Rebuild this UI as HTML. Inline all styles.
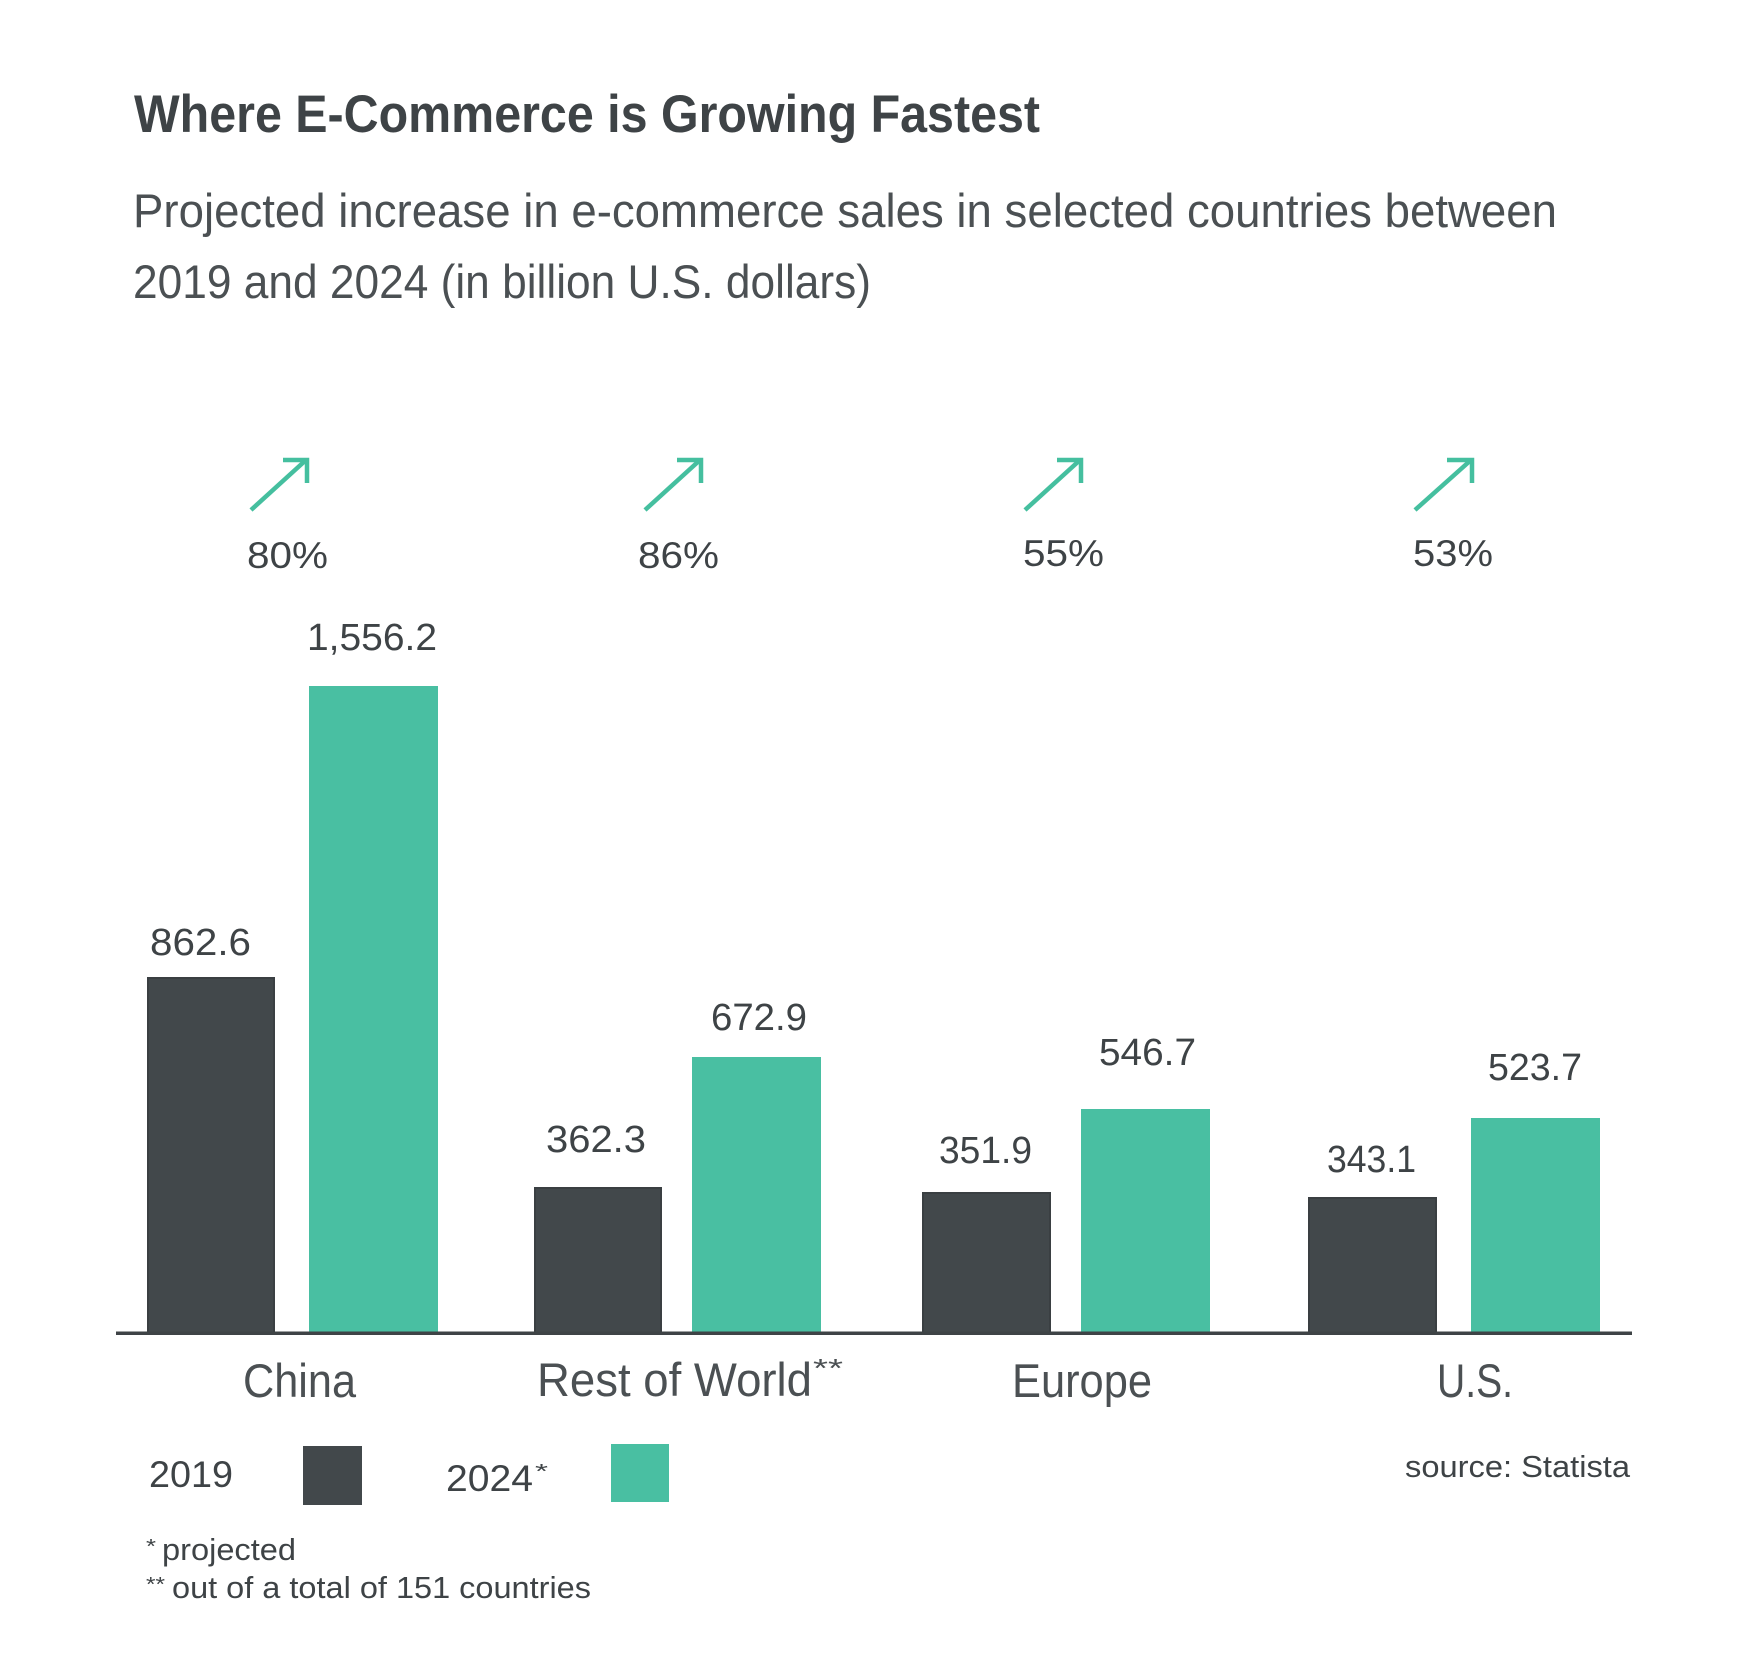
<!DOCTYPE html>
<html>
<head>
<meta charset="utf-8">
<style>
  html, body { margin: 0; padding: 0; background: #ffffff; }
  svg { display: block; }
  text { font-family: "Liberation Sans", "DejaVu Sans", sans-serif; fill: #3e4346; }
</style>
</head>
<body>
<svg width="1754" height="1668" viewBox="0 0 1754 1668" xmlns="http://www.w3.org/2000/svg">
  <rect x="0" y="0" width="1754" height="1668" fill="#ffffff"/>

  <!-- Title -->
  <text x="134" y="132" font-size="53" font-weight="bold" textLength="906" lengthAdjust="spacingAndGlyphs">Where E-Commerce is Growing Fastest</text>

  <!-- Subtitle -->
  <text x="133" y="227" font-size="47" textLength="1424" lengthAdjust="spacingAndGlyphs" style="fill:#4b5053">Projected increase in e-commerce sales in selected countries between</text>
  <text x="133" y="298" font-size="47" textLength="738" lengthAdjust="spacingAndGlyphs" style="fill:#4b5053">2019 and 2024 (in billion U.S. dollars)</text>

  <!-- Arrows -->
  <g stroke="#45bf9f" stroke-width="4.5" fill="none" stroke-linecap="butt">
    <line x1="251" y1="510" x2="306" y2="460"/>
    <polyline points="283,460 307,460 307,483"/>
    <line x1="645" y1="510" x2="700" y2="460"/>
    <polyline points="677,460 701,460 701,483"/>
    <line x1="1025" y1="510" x2="1080" y2="460"/>
    <polyline points="1057,460 1081,460 1081,483"/>
    <line x1="1415" y1="510" x2="1471" y2="460"/>
    <polyline points="1447,460 1472,460 1472,483"/>
  </g>

  <!-- Percentages -->
  <text x="247" y="568" font-size="37" textLength="81" lengthAdjust="spacingAndGlyphs">80%</text>
  <text x="638" y="568" font-size="37" textLength="81" lengthAdjust="spacingAndGlyphs">86%</text>
  <text x="1023" y="566" font-size="37" textLength="81" lengthAdjust="spacingAndGlyphs">55%</text>
  <text x="1413" y="566" font-size="37" textLength="80" lengthAdjust="spacingAndGlyphs">53%</text>

  <!-- Bars 2019 -->
  <g fill="#42484b" stroke="#3a3f42" stroke-width="2">
    <rect x="148" y="978" width="126" height="355"/>
    <rect x="535" y="1188" width="126" height="145"/>
    <rect x="923" y="1193" width="127" height="140"/>
    <rect x="1309" y="1198" width="127" height="135"/>
  </g>
  <!-- Bars 2024 -->
  <g fill="#49bfa2">
    <rect x="309" y="686" width="129" height="647"/>
    <rect x="692" y="1057" width="129" height="276"/>
    <rect x="1081" y="1109" width="129" height="224"/>
    <rect x="1471" y="1118" width="129" height="215"/>
  </g>

  <!-- Axis -->
  <rect x="116" y="1331.5" width="1516" height="3.5" fill="#3e4346"/>

  <!-- Value labels -->
  <text x="150" y="955" font-size="38" textLength="101" lengthAdjust="spacingAndGlyphs">862.6</text>
  <text x="307" y="650" font-size="38" textLength="130" lengthAdjust="spacingAndGlyphs">1,556.2</text>
  <text x="546" y="1152" font-size="38" textLength="100" lengthAdjust="spacingAndGlyphs">362.3</text>
  <text x="711" y="1030" font-size="38" textLength="96" lengthAdjust="spacingAndGlyphs">672.9</text>
  <text x="939" y="1163" font-size="38" textLength="93" lengthAdjust="spacingAndGlyphs">351.9</text>
  <text x="1099" y="1065" font-size="38" textLength="97" lengthAdjust="spacingAndGlyphs">546.7</text>
  <text x="1327" y="1172" font-size="38" textLength="89" lengthAdjust="spacingAndGlyphs">343.1</text>
  <text x="1488" y="1080" font-size="38" textLength="94" lengthAdjust="spacingAndGlyphs">523.7</text>

  <!-- Category labels -->
  <text x="243" y="1397" font-size="47" textLength="113" lengthAdjust="spacingAndGlyphs" style="fill:#4b5053">China</text>
  <text x="537" y="1396" font-size="47" textLength="275" lengthAdjust="spacingAndGlyphs" style="fill:#4b5053">Rest of World</text>
  <text x="813" y="1377" font-size="26" textLength="30" lengthAdjust="spacingAndGlyphs" style="fill:#4b5053">**</text>
  <text x="1012" y="1397" font-size="47" textLength="140" lengthAdjust="spacingAndGlyphs" style="fill:#4b5053">Europe</text>
  <text x="1437" y="1397" font-size="47" textLength="76" lengthAdjust="spacingAndGlyphs" style="fill:#4b5053">U.S.</text>

  <!-- Legend -->
  <text x="149" y="1487" font-size="37" textLength="84" lengthAdjust="spacingAndGlyphs">2019</text>
  <rect x="303" y="1446" width="59" height="59" fill="#42484b"/>
  <text x="446" y="1491" font-size="37" textLength="87" lengthAdjust="spacingAndGlyphs">2024</text>
  <text x="535" y="1478" font-size="20" textLength="13" lengthAdjust="spacingAndGlyphs">*</text>
  <rect x="611" y="1444" width="58" height="58" fill="#49bfa2"/>

  <!-- Source -->
  <text x="1405" y="1477" font-size="31" textLength="225" lengthAdjust="spacingAndGlyphs">source: Statista</text>

  <!-- Footnotes -->
  <text x="146" y="1553" font-size="20" textLength="10" lengthAdjust="spacingAndGlyphs">*</text>
  <text x="162" y="1560" font-size="31" textLength="134" lengthAdjust="spacingAndGlyphs">projected</text>
  <text x="146" y="1591" font-size="20" textLength="19" lengthAdjust="spacingAndGlyphs">**</text>
  <text x="172" y="1598" font-size="31" textLength="419" lengthAdjust="spacingAndGlyphs">out of a total of 151 countries</text>
</svg>
</body>
</html>
